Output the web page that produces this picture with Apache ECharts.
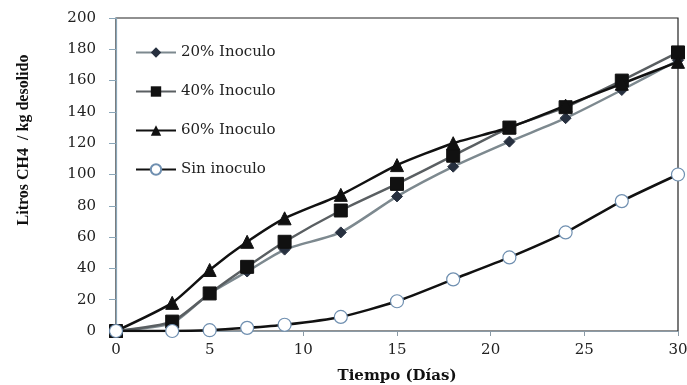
<!DOCTYPE html>
<html><head><meta charset="utf-8">
<script src="https://cdn.jsdelivr.net/npm/echarts@6/dist/echarts.min.js"></script>
<style>html,body{margin:0;padding:0;background:#fff}#c{width:687px;height:385px}</style>
</head><body><div id="c"></div>
<script>
const days = [0, 3, 5, 7, 9, 12, 15, 18, 21, 24, 27, 30];
const inoc20 = [0, 5, 24, 38, 52, 63, 86, 105, 121, 136, 154, 173];
const inoc40 = [0, 6, 24, 41, 57, 77, 94, 112, 130, 143, 160, 178];
const inoc60 = [0, 18, 39, 57, 72, 87, 106, 120, 130, 144, 158, 172];
const sinInoc = [0, 0, 0.5, 2, 4, 9, 19, 33, 47, 63, 83, 100];
const names = ['20% Inoculo', '40% Inoculo', '60% Inoculo', 'Sin inoculo'];
const xTitle = 'Tiempo (Días)';
const yTitle = 'Litros CH4  / kg desolido';
const font = 'DejaVu Serif';
const pair = (arr) => days.map((d, i) => [d, arr[i]]);
const chart = echarts.init(document.getElementById('c'));
chart.setOption({
  animation: false,
  grid: { left: 116, right: 9, top: 18, bottom: 54, show: true, borderColor: '#222', borderWidth: 1.2,
    containLabel: false, outerBoundsMode: 'none' },
  legend: {
    orient: 'vertical', left: 130, top: 40, itemWidth: 40, itemHeight: 13, itemGap: 24,
    textStyle: { fontFamily: font, fontSize: 15, color: '#222' },
    data: names
  },
  graphic: [{
    type: 'text', x: 24, y: 140, rotation: Math.PI / 2,
    style: { text: yTitle, fontFamily: 'Liberation Serif', fontSize: 16, fontWeight: 'bold', fill: '#111',
      textAlign: 'center', textVerticalAlign: 'middle' }
  }],
  xAxis: {
    type: 'value', min: 0, max: 30, interval: 5,
    name: xTitle, nameLocation: 'middle', nameGap: 38,
    nameTextStyle: { fontFamily: font, fontSize: 15, fontWeight: 'bold', color: '#111' },
    axisLine: { onZero: false, lineStyle: { color: '#8a9aa6', width: 1.2 } },
    axisTick: { show: true, length: 5, lineStyle: { color: '#8a9aa6' } },
    axisLabel: { fontFamily: font, fontSize: 15, color: '#222', margin: 12 },
    splitLine: { show: false }
  },
  yAxis: {
    type: 'value', min: 0, max: 200, interval: 20,
    axisLine: { show: true, lineStyle: { color: '#8aa6b8', width: 1.2 } },
    axisTick: { show: true, length: 7, lineStyle: { color: '#8aa6b8' } },
    axisLabel: { fontFamily: font, fontSize: 15, color: '#222', margin: 20 },
    splitLine: { show: false }
  },
  series: [
    { name: names[0], type: 'line', data: pair(inoc20), smooth: 0.2, symbol: 'diamond', symbolSize: 11,
      lineStyle: { color: '#7d898f', width: 2.5 }, itemStyle: { color: '#27303f', borderColor: '#27303f' }, z: 3 },
    { name: names[1], type: 'line', data: pair(inoc40), smooth: 0.2, symbol: 'rect', symbolSize: 13,
      lineStyle: { color: '#5a5f62', width: 2.5 }, itemStyle: { color: '#111', borderColor: '#111' }, z: 4 },
    { name: names[2], type: 'line', data: pair(inoc60), smooth: 0.2, symbol: 'triangle', symbolSize: 13,
      lineStyle: { color: '#111', width: 2.5 }, itemStyle: { color: '#111', borderColor: '#111' }, z: 5 },
    { name: names[3], type: 'line', data: pair(sinInoc), smooth: 0.2, symbol: 'circle', symbolSize: 13,
      lineStyle: { color: '#111', width: 2.5 }, itemStyle: { color: '#fff', borderColor: '#6f8fb0', borderWidth: 1.2 }, z: 6 }
  ]
});
</script></body></html>
